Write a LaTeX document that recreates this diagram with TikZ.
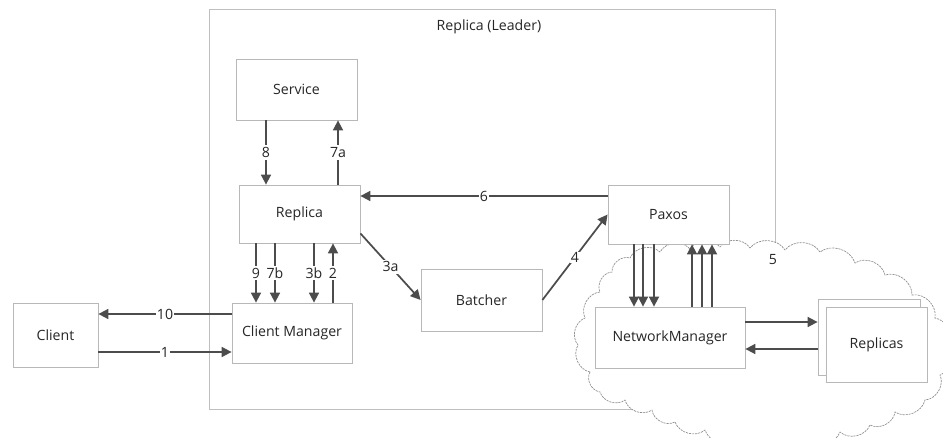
\documentclass[tikz,border=0pt]{standalone}
\usepackage{fontspec}
\setmainfont{Open Sans}
\usetikzlibrary{arrows.meta,shadows}
\begin{document}
\begin{tikzpicture}[x=0.75pt,y=-0.75pt,
  txt/.style={font=\fontsize{10.6}{12}\selectfont, text=black!85},
  box/.style={txt, draw=black!28, line width=0.6pt, fill=white, inner sep=0pt,
    drop shadow={shadow xshift=1pt,shadow yshift=-1pt,opacity=1,fill=black!18}},
  arr/.style={draw=black!70, line width=1.3pt, -{Triangle[length=7.5pt,width=7.5pt]}},
  lbl/.style={txt, fill=white, inner sep=1.5pt},
  cloudline/.style={draw=black!45, line width=0.5pt, dash pattern=on 1.6pt off 0.7pt, fill=white}]
\useasboundingbox (0,0) rectangle (943,438);

% leader replica frame
\draw[draw=black!25, line width=0.7pt] (209,9) rectangle (775,409);
\node[txt] (title) at (489,27) {Replica (Leader)};

% network cloud
\draw[cloudline]
  (590,372) to[bend left=55] (578,345) to[bend left=55] (585,318)
  to[bend left=55] (600,292) to[bend left=55] (612,272)
  to[bend left=55] (630,258) to[bend left=55] (660,252)
  to[bend left=55] (690,249) to[bend left=55] (720,247)
  to[bend left=55] (750,248) to[bend left=55] (785,250)
  to[bend left=55] (820,252) to[bend left=55] (855,263)
  to[bend left=55] (885,275) to[bend left=55] (912,295)
  to[bend left=55] (935,318) to[bend left=55] (948,345)
  to[bend left=55] (940,375) to[bend left=55] (925,400)
  to[bend left=55] (895,412) to[bend left=55] (870,425)
  to[bend left=55] (840,432) to[bend left=55] (810,440)
  to[bend left=55] (780,445) to[bend left=55] (745,440)
  to[bend left=55] (705,430) to[bend left=55] (675,422)
  to[bend left=55] (652,410) to[bend left=55] (625,400)
  to[bend left=55] (600,392) to[bend left=55] cycle;

% components
\node[box, minimum width=121*0.75pt, minimum height=61*0.75pt] (svc) at (296.5,89.5) {Service};
\node[box, minimum width=121*0.75pt, minimum height=58*0.75pt] (rep) at (299.5,214) {Replica};
\node[box, minimum width=120*0.75pt, minimum height=60*0.75pt] (cm) at (292,333) {Client Manager};
\node[box, minimum width=85*0.75pt, minimum height=64*0.75pt] (cli) at (55.5,335) {Client};
\node[box, minimum width=121*0.75pt, minimum height=62*0.75pt] (bat) at (481.5,300) {Batcher};
\node[box, minimum width=121*0.75pt, minimum height=59*0.75pt] (pax) at (668.5,214.5) {Paxos};
\node[box, minimum width=150*0.75pt, minimum height=61*0.75pt] (nm) at (670,337.5) {NetworkManager};
\node[box, minimum width=102*0.75pt, minimum height=76*0.75pt] (repsb) at (869,337) {};
\node[box, minimum width=101*0.75pt, minimum height=75*0.75pt] (reps) at (876.5,344.5) {Replicas};

\node[txt] (five) at (773,260) {5};

% connector columns and rows
\coordinate (c8) at (266,0);
\coordinate (c7a) at (338,0);
\coordinate (c9) at (256,0);
\coordinate (c7b) at (275,0);
\coordinate (c3b) at (314,0);
\coordinate (c2) at (333,0);
\coordinate (r10) at (0,314);
\coordinate (r1) at (0,352);
\coordinate (r6) at (0,196);
\coordinate (d1) at (634,0);
\coordinate (d2) at (643,0);
\coordinate (d3) at (654,0);
\coordinate (u1) at (692,0);
\coordinate (u2) at (702,0);
\coordinate (u3) at (712,0);
\coordinate (rq) at (0,322);
\coordinate (rr) at (0,349);

% service <-> replica
\draw[arr] (svc.south -| c8) -- node[lbl]{8} (rep.north -| c8);
\draw[arr] (rep.north -| c7a) -- node[lbl]{7a} (svc.south -| c7a);

% replica <-> client manager
\draw[arr] (rep.south -| c9) -- node[lbl]{9} (cm.north -| c9);
\draw[arr] (rep.south -| c7b) -- node[lbl]{7b} (cm.north -| c7b);
\draw[arr] (rep.south -| c3b) -- node[lbl]{3b} (cm.north -| c3b);
\draw[arr] (cm.north -| c2) -- node[lbl]{2} (rep.south -| c2);

% client <-> client manager
\draw[arr] (cm.west |- r10) -- node[lbl, inner sep=0.5pt]{10} (cli.east |- r10);
\draw[arr] (cli.east |- r1) -- node[lbl, inner sep=0.5pt]{1} (cm.west |- r1);

% ordering path
\draw[arr] ([yshift=7.5pt]rep.south east) -- node[lbl]{3a} (bat.west);
\draw[arr] (bat.east) -- node[lbl, inner sep=0.5pt]{4} (pax.west);
\draw[arr] (pax.west |- r6) -- node[lbl, inner sep=0.5pt]{6} (rep.east |- r6);

% paxos <-> network manager
\draw[arr] (pax.south -| d1) -- (nm.north -| d1);
\draw[arr] (pax.south -| d2) -- (nm.north -| d2);
\draw[arr] (pax.south -| d3) -- (nm.north -| d3);
\draw[arr] (nm.north -| u1) -- (pax.south -| u1);
\draw[arr] (nm.north -| u2) -- (pax.south -| u2);
\draw[arr] (nm.north -| u3) -- (pax.south -| u3);

% network manager <-> other replicas
\draw[arr] (nm.east |- rq) -- (repsb.west |- rq);
\draw[arr] (repsb.west |- rr) -- (nm.east |- rr);
\end{tikzpicture}
\end{document}
